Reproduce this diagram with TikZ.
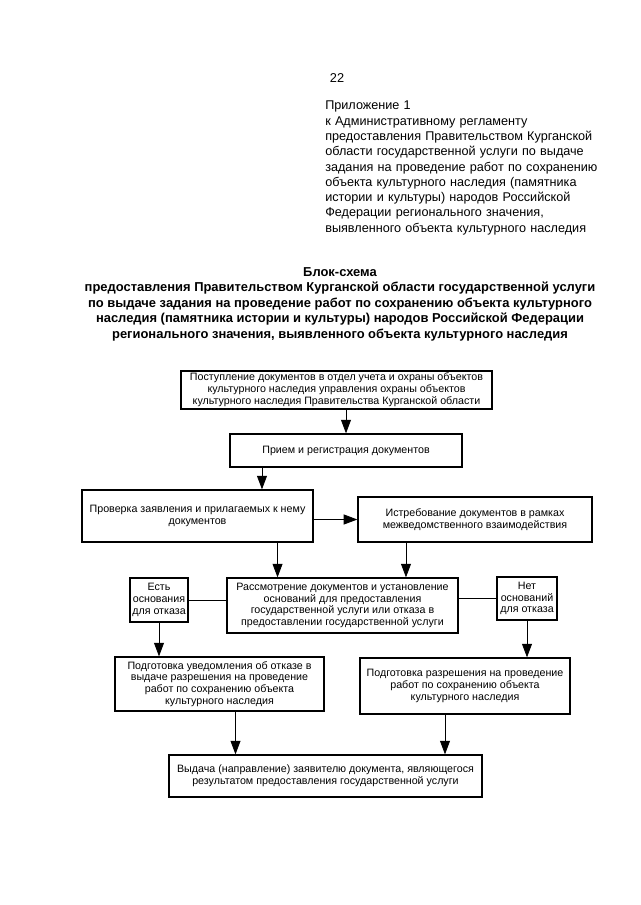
\documentclass[tikz,border=0pt]{standalone}
\usepackage{fontspec}
\setmainfont{Liberation Sans}
\usetikzlibrary{arrows.meta}

\tikzset{
    blok/.style={draw, line width=0.9pt, inner sep=0pt, align=center,
        font=\fontsize{7.6}{8.4}\selectfont},
    strelka/.style={-{Triangle[length=0.34cm, width=0.25cm]}, line width=0.6pt},
    liniya/.style={line width=0.6pt}
}

\begin{document}
\begin{tikzpicture}[x=0.025cm, y=-0.025cm]

    \useasboundingbox (0, 0) rectangle (640, 905);

    \node[font=\fontsize{9.1}{10.2}\selectfont] (stranica) at (337, 78) {22};

    \node[anchor=north west, inner sep=0pt, text width=8cm, align=left,
        font=\fontsize{9}{10.85}\selectfont] (prilozh) at (325, 101)
        {Приложение 1\\
        к Административному регламенту\\
        предоставления Правительством Курганской\\
        области государственной услуги по выдаче\\
        задания на проведение работ по сохранению\\
        объекта культурного наследия (памятника\\
        истории и культуры) народов Российской\\
        Федерации регионального значения,\\
        выявленного объекта культурного наследия};

    \node[anchor=north, inner sep=0pt, align=center,
        font=\fontsize{9.2}{11}\selectfont\bfseries] (zagolovok) at (340, 267)
        {Блок-схема\\
        предоставления Правительством Курганской области государственной услуги\\
        по выдаче задания на проведение работ по сохранению объекта культурного\\
        наследия (памятника истории и культуры) народов Российской Федерации\\
        регионального значения, выявленного объекта культурного наследия};

    \node[blok, minimum width=7.775cm, minimum height=0.95cm] (postup) at (336.5, 390)
        {Поступление документов в отдел учета и охраны объектов\\
        культурного наследия управления охраны объектов\\
        культурного наследия Правительства Курганской области};
    \node[blok, minimum width=5.8cm, minimum height=0.825cm] (priem) at (346, 450.5)
        {Прием и регистрация документов};
    \node[blok, minimum width=5.775cm, minimum height=1.3cm] (proverka) at (197.5, 516)
        {Проверка заявления и прилагаемых к нему\\
        документов};
    \node[blok, minimum width=5.85cm, minimum height=1.125cm] (istreb) at (475, 519.5)
        {Истребование документов в рамках\\
        межведомственного взаимодействия};
    \node[blok, minimum width=5.775cm, minimum height=1.375cm] (rassm) at (342.5, 605.5)
        {Рассмотрение документов и установление\\
        оснований для предоставления\\
        государственной услуги или отказа в\\
        предоставлении государственной услуги};
    \node[blok, minimum width=1.45cm, minimum height=1.1cm] (est) at (159, 600)
        {Есть\\ основания\\ для отказа};
    \node[blok, minimum width=1.5cm, minimum height=1.075cm] (net) at (527, 598.5)
        {Нет\\ оснований\\ для отказа};
    \node[blok, minimum width=5.225cm, minimum height=1.35cm] (otkaz) at (219.5, 684)
        {Подготовка уведомления об отказе в\\
        выдаче разрешения на проведение\\
        работ по сохранению объекта\\
        культурного наследия};
    \node[blok, minimum width=5.25cm, minimum height=1.4cm] (razresh) at (465, 686)
        {Подготовка разрешения на проведение\\
        работ по сохранению объекта\\
        культурного наследия};
    \node[blok, minimum width=7.825cm, minimum height=1.05cm] (vydacha) at (325.5, 776)
        {Выдача (направление) заявителю документа, являющегося\\
        результатом предоставления государственной услуги};

    \draw[strelka] (priem.north |- postup.south) -- (priem.north);
    \draw[strelka] ([xshift=-2.1cm]priem.south) --
        ([xshift=-2.1cm]priem.south |- proverka.north);
    \draw[strelka] (proverka.east |- istreb.west) -- (istreb.west);
    \draw[strelka] ([xshift=2cm]proverka.south) --
        ([xshift=2cm]proverka.south |- rassm.north);
    \draw[strelka] ([xshift=-1.725cm]istreb.south) --
        ([xshift=-1.725cm]istreb.south |- rassm.north);

    \draw[liniya] (est.east) -- (est.east -| rassm.west);
    \draw[liniya] (net.west) -- (net.west -| rassm.east);

    \draw[strelka] (est.south) -- (est.south |- otkaz.north);
    \draw[strelka] (net.south) -- (net.south |- razresh.north);
    \draw[strelka] ([xshift=0.4cm]otkaz.south) --
        ([xshift=0.4cm]otkaz.south |- vydacha.north);
    \draw[strelka] ([xshift=-0.5cm]razresh.south) --
        ([xshift=-0.5cm]razresh.south |- vydacha.north);

\end{tikzpicture}
\end{document}
